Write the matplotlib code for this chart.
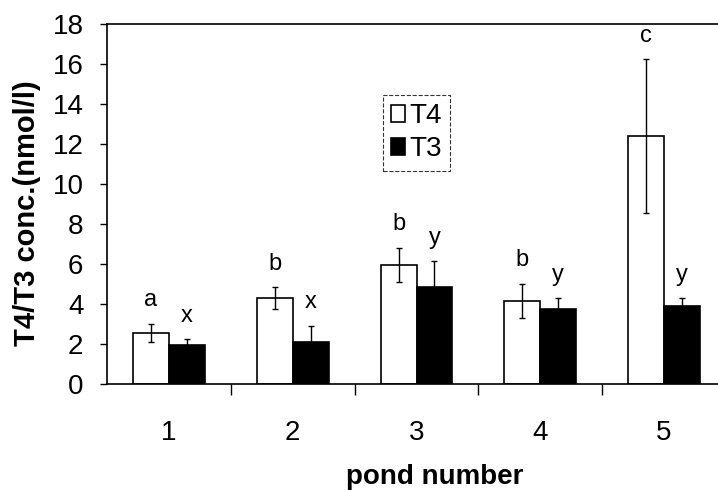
import numpy as np
import matplotlib
matplotlib.use('Agg')
import matplotlib.pyplot as plt
from matplotlib.ticker import FixedLocator

plt.rcParams['font.family'] = ['Liberation Sans', 'DejaVu Sans']

# values
ponds = ['1', '2', '3', '4', '5']
t4_mean = [2.55, 4.3, 5.95, 4.15, 12.4]
t4_err = [0.45, 0.55, 0.85, 0.85, 3.85]
t3_mean = [1.95, 2.1, 4.85, 3.75, 3.9]
t3_err = [0.3, 0.8, 1.3, 0.55, 0.4]
t4_letters = ['a', 'b', 'b', 'b', 'c']
t3_letters = ['x', 'x', 'y', 'y', 'y']

fig = plt.figure(figsize=(7.18, 4.9), dpi=100)
W, H = 718, 490
ax = fig.add_axes([107/W, (H-384)/H, (726-107)/W, 360/H])

x = np.arange(1, len(ponds)+1)
w = 0.29
ekw = dict(elinewidth=1.0, capsize=2.5, capthick=1.0, ecolor='black')
ax.bar(x - w/2, t4_mean, w, yerr=t4_err, color='white', edgecolor='black',
       linewidth=1.2, error_kw=ekw, label='T4', zorder=2)
ax.bar(x + w/2, t3_mean, w, yerr=t3_err, color='black', edgecolor='black',
       linewidth=1.2, error_kw=ekw, label='T3', zorder=2)

# significance letters above the error bars
for i in range(len(ponds)):
    ax.annotate(t4_letters[i], (x[i] - w/2, t4_mean[i] + t4_err[i]), xytext=(0, 9),
                textcoords='offset points', ha='center', va='bottom', fontsize=17)
    ax.annotate(t3_letters[i], (x[i] + w/2, t3_mean[i] + t3_err[i]), xytext=(0, 9),
                textcoords='offset points', ha='center', va='bottom', fontsize=17)

ax.set_xlim(0.5, 5.5)
ax.set_ylim(0, 18)
ax.set_yticks(np.arange(0, 19, 2))
ax.set_xticks(x)
ax.set_xticklabels(ponds)
ax.xaxis.set_minor_locator(FixedLocator([1.5, 2.5, 3.5, 4.5]))
ax.tick_params(axis='x', which='major', length=0, pad=26, labelsize=20)
ax.tick_params(axis='x', which='minor', length=8, width=1.0, direction='out')
ax.tick_params(axis='y', length=5, width=1.0, direction='out', pad=12, labelsize=20)

for s in ['left', 'bottom', 'top']:
    ax.spines[s].set_linewidth(1.2)
ax.spines['right'].set_visible(False)

ax.set_ylabel('T4/T3 conc.(nmol/l)', fontsize=21, fontweight='bold', va='center')
ax.yaxis.set_label_coords(-0.129, 0.475)
ax.set_xlabel('pond number', fontsize=20, fontweight='bold', va='center')
ax.xaxis.set_label_coords(0.53, -0.258)

leg = ax.legend(loc='upper left', bbox_to_anchor=(0.446, 0.803), borderaxespad=0,
                fontsize=20, frameon=True, fancybox=False, handlelength=0.5,
                handleheight=0.6, handletextpad=0.15, borderpad=0.3, labelspacing=0.25)
leg.get_frame().set_edgecolor('black')
leg.get_frame().set_linewidth(0.8)
leg.get_frame().set_linestyle('--')

fig.savefig('out.png', dpi=100)
